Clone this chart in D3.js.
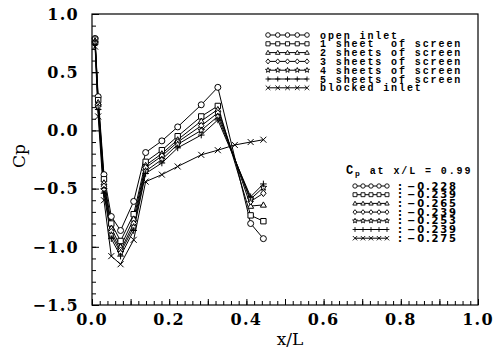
<!DOCTYPE html>
<html><head><meta charset="utf-8">
<script src="https://cdn.jsdelivr.net/npm/d3@7"></script>
<style>
html,body{margin:0;padding:0;background:#fff;}
svg{display:block;}
</style></head>
<body>
<svg id="chart" width="495" height="352"></svg>
<script>
// ---- data ----
const xScreens = [0.008, 0.016, 0.031, 0.05, 0.074, 0.108, 0.139, 0.181, 0.222, 0.283, 0.326, 0.411, 0.444];
const openInlet = [0.79, 0.29, -0.38, -0.74, -0.86, -0.61, -0.19, -0.09, 0.03, 0.22, 0.37, -0.80, -0.93];
const sheet1 = [0.78, 0.26, -0.42, -0.80, -0.95, -0.72, -0.27, -0.17, -0.05, 0.12, 0.21, -0.73, -0.78];
const sheet2 = [0.77, 0.24, -0.45, -0.84, -1.00, -0.76, -0.30, -0.20, -0.08, 0.08, 0.18, -0.65, -0.64];
const sheet3 = [0.76, 0.22, -0.48, -0.87, -1.03, -0.80, -0.32, -0.22, -0.10, 0.04, 0.15, -0.61, -0.54];
const sheet4 = [0.75, 0.20, -0.51, -0.90, -1.05, -0.83, -0.35, -0.25, -0.12, 0.00, 0.12, -0.59, -0.49];
const sheet5 = [0.74, 0.18, -0.54, -0.93, -1.08, -0.86, -0.37, -0.28, -0.15, -0.04, 0.09, -0.57, -0.46];
const xBlocked = [0.008, 0.016, 0.031, 0.05, 0.074, 0.108, 0.139, 0.181, 0.222, 0.283, 0.326, 0.37, 0.411, 0.444];
const blocked = [0.72, 0.12, -0.60, -1.08, -1.15, -0.94, -0.44, -0.38, -0.31, -0.21, -0.17, -0.125, -0.10, -0.08];
const seriesNames = ["open inlet", "1 sheet  of screen", "2 sheets of screen", "3 sheets of screen", "4 sheets of screen", "5 sheets of screen", "blocked inlet"];
const cpAt099 = ["-0.228", "-0.239", "-0.265", "-0.239", "-0.253", "-0.239", "-0.275"];
const xTicks = [0.0, 0.2, 0.4, 0.6, 0.8, 1.0];
const yTicks = [1.0, 0.5, 0.0, -0.5, -1.0, -1.5];

const series = [
  {x: xScreens, y: openInlet, m: "circle"},
  {x: xScreens, y: sheet1, m: "square"},
  {x: xScreens, y: sheet2, m: "triangle"},
  {x: xScreens, y: sheet3, m: "diamond"},
  {x: xScreens, y: sheet4, m: "star"},
  {x: xScreens, y: sheet5, m: "plus"},
  {x: xBlocked, y: blocked, m: "cross"}
];

// ---- layout ----
const L = 92, R = 478, T = 14, B = 305;
const svg = d3.select("#chart");
const x = d3.scaleLinear().domain([0, 1]).range([L, R]);
const y = d3.scaleLinear().domain([-1.5, 1]).range([B, T]);

function markerPath(type, s) {
  const p = d3.path();
  switch (type) {
    case "circle": p.moveTo(s, 0); p.arc(0, 0, s, 0, 2 * Math.PI); break;
    case "square": p.rect(-s * 0.9, -s * 0.9, s * 1.8, s * 1.8); break;
    case "triangle": p.moveTo(0, -s); p.lineTo(s * 1.0, s * 0.75); p.lineTo(-s * 1.0, s * 0.75); p.closePath(); break;
    case "diamond": p.moveTo(0, -s * 1.1); p.lineTo(s * 0.9, 0); p.lineTo(0, s * 1.1); p.lineTo(-s * 0.9, 0); p.closePath(); break;
    case "star": {
      for (let i = 0; i < 10; i++) {
        const r = i % 2 === 0 ? s * 1.15 : s * 0.5;
        const a = -Math.PI / 2 + i * Math.PI / 5;
        const px = r * Math.cos(a), py = r * Math.sin(a);
        if (i === 0) p.moveTo(px, py); else p.lineTo(px, py);
      }
      p.closePath(); break;
    }
    case "plus": p.moveTo(-s * 1.1, 0); p.lineTo(s * 1.1, 0); p.moveTo(0, -s * 1.1); p.lineTo(0, s * 1.1); break;
    case "cross": p.moveTo(-s, -s); p.lineTo(s, s); p.moveTo(-s, s); p.lineTo(s, -s); break;
  }
  return p.toString();
}
const hollow = t => !(t === "plus" || t === "cross");

// frame
svg.append("rect").attr("x", L).attr("y", T).attr("width", R - L).attr("height", B - T)
  .attr("fill", "none").attr("stroke", "#000").attr("stroke-width", 1.2);

// axes ticks (inward)
const gx = svg.append("g").attr("transform", `translate(0,${B})`);
gx.call(d3.axisTop(x).tickValues(d3.range(0, 1.0001, 0.02)).tickSize(4).tickFormat(""));
const gxMaj = svg.append("g").attr("transform", `translate(0,${B})`);
gxMaj.call(d3.axisTop(x).tickValues(d3.range(0, 1.0001, 0.1)).tickSize(6).tickFormat(""));
const gy = svg.append("g").attr("transform", `translate(${L},0)`);
gy.call(d3.axisRight(y).tickValues(d3.range(-1.5, 1.0001, 0.1)).tickSize(4).tickFormat(""));
const gyMaj = svg.append("g").attr("transform", `translate(${L},0)`);
gyMaj.call(d3.axisRight(y).tickValues(yTicks).tickSize(7).tickFormat(""));
svg.selectAll(".domain").remove();
svg.selectAll(".tick line").attr("stroke", "#000").attr("stroke-width", 1);

// tick labels
const tickFont = "DejaVu Serif";
svg.append("g").selectAll("text").data(yTicks).join("text")
  .attr("x", 79).attr("y", d => y(d)).attr("dy", "0.36em")
  .attr("text-anchor", "end").attr("font-family", tickFont).attr("font-size", 16).attr("font-weight", "bold")
  .attr("letter-spacing", 1.3)
  .text(d => (d < 0 ? "\u2212" : "") + Math.abs(d).toFixed(1));
svg.append("g").selectAll("text").data(xTicks).join("text")
  .attr("x", d => x(d)).attr("y", 325)
  .attr("text-anchor", "middle").attr("font-family", tickFont).attr("font-size", 16).attr("font-weight", "bold")
  .attr("letter-spacing", 1.3)
  .text(d => d.toFixed(1));

// axis titles
svg.append("text").attr("x", 290).attr("y", 345).attr("text-anchor", "middle")
  .attr("font-family", tickFont).attr("font-size", 17).text("x/L");
svg.append("text").attr("transform", "translate(25,156) rotate(-90)").attr("text-anchor", "middle")
  .attr("font-family", tickFont).attr("font-size", 17).text("Cp");

// series
const line = d3.line().x(d => x(d[0])).y(d => y(d[1]));
series.forEach(s => {
  const pts = s.x.map((xv, i) => [xv, s.y[i]]);
  svg.append("path").datum(pts).attr("d", line).attr("fill", "none").attr("stroke", "#000").attr("stroke-width", 1);
});
series.forEach(s => {
  const pts = s.x.map((xv, i) => [xv, s.y[i]]);
  svg.append("g").selectAll("path").data(pts).join("path")
    .attr("transform", d => `translate(${x(d[0])},${y(d[1])})`)
    .attr("d", markerPath(s.m, 3))
    .attr("fill", hollow(s.m) ? "#fff" : "none").attr("stroke", "#000").attr("stroke-width", 1);
});

// legend 1
const legFont = "Liberation Mono";
const leg1 = svg.append("g");
seriesNames.forEach((name, i) => {
  const yy = 35 + i * 8.8;
  leg1.append("line").attr("x1", 268).attr("x2", 307).attr("y1", yy).attr("y2", yy).attr("stroke", "#000").attr("stroke-width", 1);
  for (let k = 0; k < 5; k++) {
    leg1.append("path").attr("transform", `translate(${268 + k * 9.75},${yy})`)
      .attr("d", markerPath(series[i].m, 2.3))
      .attr("fill", hollow(series[i].m) ? "#fff" : "none").attr("stroke", "#000").attr("stroke-width", 0.9);
  }
  leg1.append("text").attr("x", 320).attr("y", yy).attr("dy", "0.35em")
    .attr("font-family", legFont).attr("font-size", 10).attr("font-weight", "bold")
    .attr("letter-spacing", 1.9).style("white-space", "pre").text(name);
});

// legend 2
const leg2 = svg.append("g");
const hdr = leg2.append("text").attr("x", 346).attr("y", 174)
  .attr("font-family", legFont).attr("font-size", 10).attr("font-weight", "bold").attr("letter-spacing", 1.9)
  .style("white-space", "pre");
hdr.append("tspan").attr("font-size", 12).text("C");
hdr.append("tspan").attr("dy", 2).attr("font-size", 8).text("p");
hdr.append("tspan").attr("dy", -2).text(" at x/L = 0.99");
cpAt099.forEach((v, i) => {
  const yy = 186 + i * 8.7;
  leg2.append("line").attr("x1", 355).attr("x2", 387).attr("y1", yy).attr("y2", yy).attr("stroke", "#000").attr("stroke-width", 1);
  for (let k = 0; k < 5; k++) {
    leg2.append("path").attr("transform", `translate(${355 + k * 8},${yy})`)
      .attr("d", markerPath(series[i].m, 2.2))
      .attr("fill", hollow(series[i].m) ? "#fff" : "none").attr("stroke", "#000").attr("stroke-width", 0.9);
  }
  leg2.append("text").attr("x", 398).attr("y", yy).attr("dy", "0.35em")
    .attr("font-family", "DejaVu Sans").attr("font-size", 10).attr("font-weight", "bold")
    .text(":");
  leg2.append("text").attr("x", 407).attr("y", yy).attr("dy", "0.36em")
    .attr("font-family", "DejaVu Sans").attr("font-size", 10).attr("font-weight", "bold").attr("letter-spacing", 1.8)
    .text(v.replace("-", "\u2212"));
});
</script>
</body></html>
